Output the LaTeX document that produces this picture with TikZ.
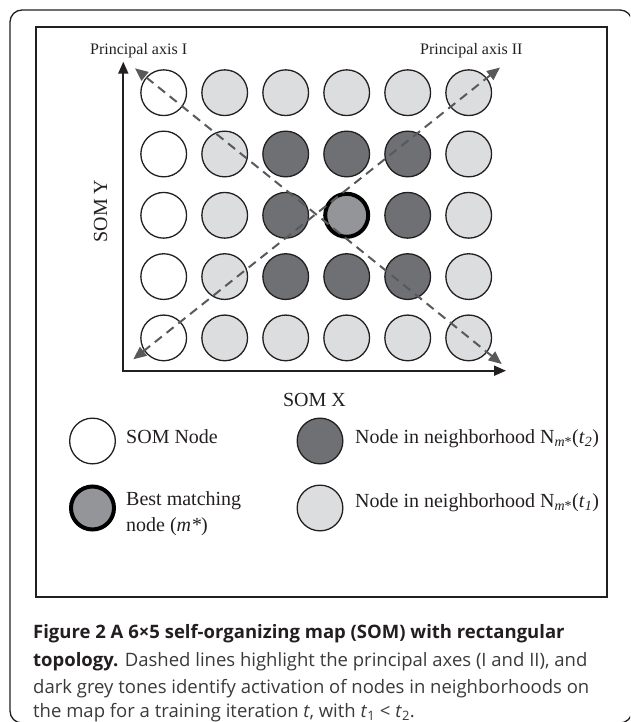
\documentclass[tikz,border=0pt]{standalone}
\usepackage{fontspec}
\setmainfont{Liberation Serif}
\newfontfamily\capfont{Open Sans}
\usetikzlibrary{arrows.meta}

\definecolor{lightnode}{HTML}{DCDDDF}
\definecolor{darknode}{HTML}{6F7073}
\definecolor{bestnode}{HTML}{939598}
\definecolor{axisdash}{HTML}{58595B}
\definecolor{frameline}{HTML}{231F20}
\definecolor{captext}{HTML}{3A3A3A}

\begin{document}
\begin{tikzpicture}[x=1pt,y=-1pt,
  cell/.style={circle,draw=frameline,line width=1.3pt,minimum size=45.7pt,inner sep=0pt},
  somnode/.style={cell,fill=white},
  nbone/.style={cell,fill=lightnode},
  nbtwo/.style={cell,fill=darknode},
  bestmatch/.style={circle,draw=black,line width=4pt,minimum size=43pt,inner sep=0pt,fill=bestnode},
  axisline/.style={line width=1.8pt,draw=frameline,line join=miter,
    {Triangle[length=12pt,width=10pt]}-{Triangle[length=12pt,width=10pt]}},
  principal/.style={draw=axisdash,line width=2pt,dash pattern=on 9pt off 6pt,
    {Triangle[length=13pt,width=11pt]}-{Triangle[length=13pt,width=11pt]}},
  axislabel/.style={font=\fontsize{16}{19}\selectfont,inner sep=0pt,text=frameline},
  lbl/.style={font=\fontsize{20}{24}\selectfont,inner sep=0pt,text=frameline},
  capline/.style={font=\capfont\fontsize{18.5}{22}\selectfont,inner sep=0pt,text=captext,anchor=base west}
]
\useasboundingbox (0,0) rectangle (630,722);
\clip (0,0) rectangle (630,722);

% outer panel and inner figure frame
\draw[frameline,line width=1.3pt,rounded corners=12pt] (10,10) rectangle (632,723);
\draw[frameline,line width=2pt] (36,27) rectangle (606.7,597);

% SOM axes
\coordinate (origin) at (123.3,370.7);
\coordinate (ytip) at (123.3,61.7);
\coordinate (xtip) at (506,370.7);
\draw[axisline] (ytip) -- (origin) -- (xtip);

% grid of map nodes
\foreach \st [count=\c from 0] in {somnode,nbone,nbone,nbone,nbone,nbone}
  \node[style=\st] (n-1-\c) at ({163.7+61*\c},92.7) {};
\foreach \st [count=\c from 0] in {somnode,nbone,nbtwo,nbtwo,nbtwo,nbone}
  \node[style=\st] (n-2-\c) at ({163.7+61*\c},154) {};
\foreach \st [count=\c from 0] in {somnode,nbone,nbtwo,bestmatch,nbtwo,nbone}
  \node[style=\st] (n-3-\c) at ({163.7+61*\c},215.3) {};
\foreach \st [count=\c from 0] in {somnode,nbone,nbtwo,nbtwo,nbtwo,nbone}
  \node[style=\st] (n-4-\c) at ({163.7+61*\c},276.6) {};
\foreach \st [count=\c from 0] in {somnode,nbone,nbone,nbone,nbone,nbone}
  \node[style=\st] (n-5-\c) at ({163.7+61*\c},337.9) {};

% principal axes
\coordinate (pa1a) at (501.7,364);
\coordinate (pa1b) at (135,68.3);
\coordinate (pa2a) at (133.3,359.3);
\coordinate (pa2b) at (500,67.5);
\draw[principal] (pa1a) -- (pa1b);
\draw[principal] (pa2a) -- (pa2b);

% axis labels
\node[axislabel,anchor=base west] (axisone) at (90,55) {Principal axis I};
\node[axislabel,anchor=base west] (axistwo) at (420,55) {Principal axis II};
\node[lbl,rotate=90] (somy) at (100.5,211) {SOM Y};
\node[lbl,anchor=base] (somx) at (314.5,406) {SOM X};

% legend
\node[somnode] (legsom) at (92.5,441) {};
\node[lbl,anchor=base west] (legsomtxt) at (126,443.3) {SOM Node};
\node[nbtwo] (legtwo) at (320,441) {};
\node[lbl,anchor=base west] (legtwotxt) at (355,443.3)
  {Node in neighborhood N\textsubscript{\textit{m}*}(\textit{t}\textsubscript{\textit{2}})};
\node[bestmatch] (legbest) at (92.5,508) {};
\node[lbl,anchor=base west] (legbesttxt) at (126,505) {Best matching};
\node[lbl,anchor=base west] (legbesttxtb) at (126,531.7) {node (\textit{m*})};
\node[nbone] (legone) at (320,508) {};
\node[lbl,anchor=base west] (legonetxt) at (355,507)
  {Node in neighborhood N\textsubscript{\textit{m}*}(\textit{t}\textsubscript{\textit{1}})};

% caption
\node[capline] (cap1) at (33,638) {\textbf{\color{frameline}Figure 2 A 6×5 self-organizing map (SOM) with rectangular}};
\node[capline] (cap2) at (33,666) {\textbf{\color{frameline}topology.} Dashed lines highlight the principal axes (I and II), and};
\node[capline] (cap3) at (33,693.5) {dark grey tones identify activation of nodes in neighborhoods on};
\node[capline] (cap4) at (33,717) {the map for a training iteration \textit{t}, with \textit{t}\textsubscript{1} < \textit{t}\textsubscript{2}.};
\end{tikzpicture}
\end{document}
